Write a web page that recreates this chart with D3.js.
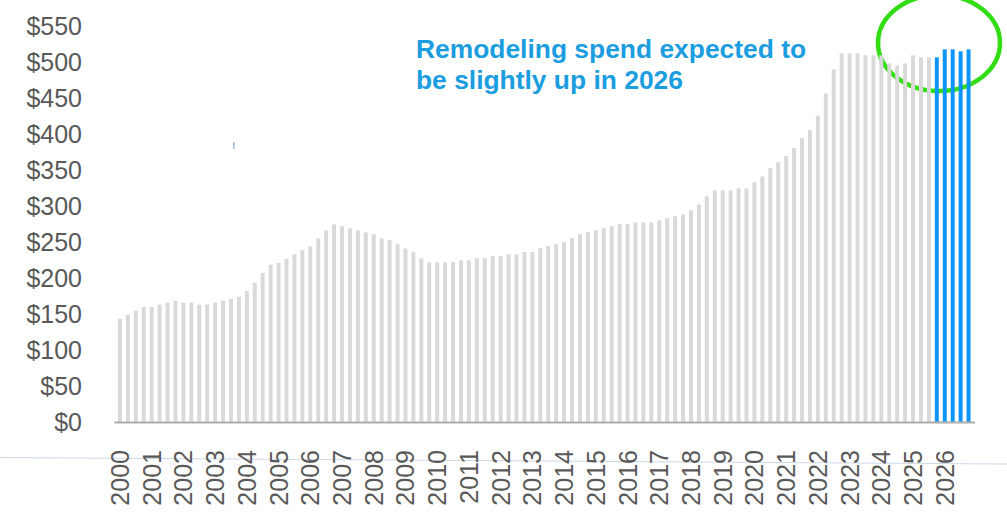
<!DOCTYPE html>
<html>
<head>
<meta charset="utf-8">
<script src="https://cdn.jsdelivr.net/npm/d3@7"></script>
<style>
  html, body { margin: 0; padding: 0; background: #ffffff; }
  svg { display: block; }
  text { font-family: "Liberation Sans", Arial, sans-serif; }
</style>
</head>
<body>
<svg id="chart" width="1007" height="512"></svg>
<script>
// Remodeling spend, four-quarter totals, $ billions, quarterly 2000Q1 - 2026Q4
const years = d3.range(2000, 2027);
const quarters = ["Q1", "Q2", "Q3", "Q4"];

// Historical estimates (2000Q1 - 2025Q3)
const actualSpend = [
  143.5, 149, 154.6, 160, 160, 163, 165.7, 168.5, 165.7, 165.7, 163, 163,
  165.7, 168.5, 171, 174, 182, 193.5, 207, 218.5, 221, 227, 233, 238.5,
  244, 255, 266, 274.5, 271.8, 269, 266, 263.4, 260.7, 255, 252.4, 246.8,
  241, 235.7, 227.3, 221.8, 221.8, 221.8, 222, 224.5, 224.5, 227.5, 227.5, 230.3,
  230.3, 233, 233, 236, 236, 241.3, 244.2, 247, 249.8, 255.3, 260.8, 263.6,
  266.3, 269.2, 272, 274.7, 274.7, 277.3, 277.3, 277.3, 280, 283, 285.7, 288.4,
  294, 302, 313.4, 321.8, 321.8, 321.8, 324.5, 324.5, 333, 341, 352.4, 360.7,
  369.5, 380.5, 394.5, 405.5, 425.3, 456.3, 489.8, 512, 512, 512, 509.3, 509.3,
  509.3, 498, 495.4, 498, 509.3, 506.5, 506.5
];
// Projections (2025Q4 - 2026Q4)
const projectedSpend = [506.5, 517.6, 517.6, 514.8, 517.6];

const yTicks = [0, 50, 100, 150, 200, 250, 300, 350, 400, 450, 500, 550];
const noteLines = ["Remodeling spend expected to", "be slightly up in 2026"];

const periods = [];
years.forEach(y => quarters.forEach(q => periods.push(y + q)));

const rows = periods.map((p, i) => ({
  period: p,
  value: i < actualSpend.length ? actualSpend[i] : projectedSpend[i - actualSpend.length],
  projected: i >= actualSpend.length
}));

const svg = d3.select("#chart");

const x = d3.scaleBand()
  .domain(periods)
  .range([114, 974.5])
  .padding(0.5);

const y = d3.scaleLinear()
  .domain([0, 550])
  .range([422, 26]);

// faint guide line running under the year labels
svg.append("line")
  .attr("x1", 0).attr("y1", 457.5)
  .attr("x2", 1007).attr("y2", 464)
  .attr("stroke", "#cdd9ea")
  .attr("stroke-width", 1);

// highlight ellipse around the latest quarters
svg.append("ellipse")
  .attr("cx", 939).attr("cy", 43)
  .attr("rx", 61).attr("ry", 48)
  .attr("fill", "none")
  .attr("stroke", "#33dd14")
  .attr("stroke-width", 4.5);

// bars
svg.append("g")
  .selectAll("rect")
  .data(rows)
  .join("rect")
  .attr("x", d => x(d.period))
  .attr("width", x.bandwidth())
  .attr("y", d => y(d.value))
  .attr("height", d => y(0) - y(d.value))
  .attr("fill", d => d.projected ? "#0c95fb" : "#d9d9d9");

// y axis
const yAxis = svg.append("g")
  .attr("transform", "translate(90,0)")
  .call(d3.axisLeft(y).tickValues(yTicks).tickSize(0).tickPadding(8)
    .tickFormat(d => "$" + d));
yAxis.select(".domain").remove();
yAxis.selectAll("text")
  .attr("fill", "#595959")
  .attr("font-size", 25)
  .style("font-family", "'Liberation Sans', Arial, sans-serif");

// x axis: one label per year, at the first quarter
const xAxis = svg.append("g")
  .attr("transform", "translate(0," + y(0) + ")")
  .call(d3.axisBottom(x)
    .tickValues(years.map(yr => yr + "Q1"))
    .tickSize(0)
    .tickFormat(d => d.slice(0, 4)));
xAxis.select(".domain")
  .attr("stroke", "#ababab")
  .attr("stroke-width", 2);
xAxis.selectAll("text")
  .attr("transform", "rotate(-90)")
  .attr("x", -28)
  .attr("y", 0)
  .attr("dy", "0.36em")
  .attr("text-anchor", "end")
  .attr("fill", "#595959")
  .attr("font-size", 25)
  .style("font-family", "'Liberation Sans', Arial, sans-serif");

// small stray tick mark
svg.append("line")
  .attr("x1", 233.8).attr("y1", 142)
  .attr("x2", 233.8).attr("y2", 149)
  .attr("stroke", "#8fb3d4")
  .attr("stroke-width", 1.3);

// annotation
const note = svg.append("text")
  .attr("x", 416)
  .attr("y", 58)
  .attr("fill", "#1b9de0")
  .attr("font-size", 26.4)
  .attr("font-weight", "bold");
noteLines.forEach((line, i) => {
  note.append("tspan")
    .attr("x", 416)
    .attr("dy", i === 0 ? 0 : 31)
    .text(line);
});
</script>
</body>
</html>
